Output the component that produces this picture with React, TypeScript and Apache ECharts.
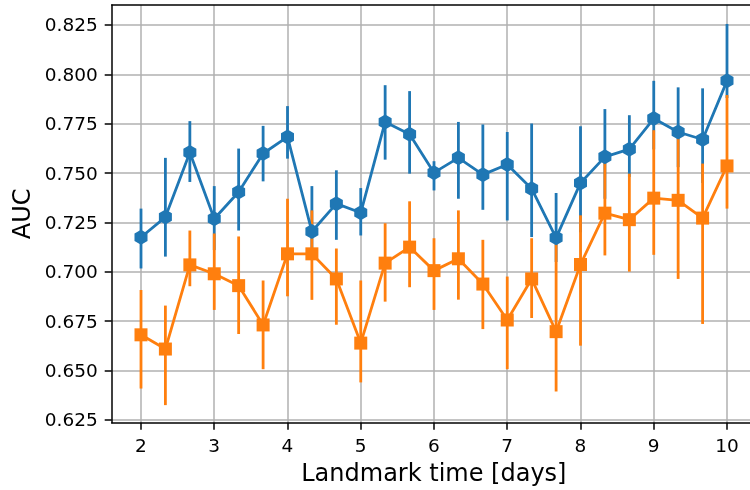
import React, { useEffect, useRef } from "react";
import * as echarts from "echarts";

const landmarkTimes = [2, 2.333, 2.667, 3, 3.333, 3.667, 4, 4.333, 4.667, 5, 5.333, 5.667, 6, 6.333, 6.667, 7, 7.333, 7.667, 8, 8.333, 8.667, 9, 9.333, 9.667, 10];

const blueMean = [0.7175, 0.7277, 0.7604, 0.7269, 0.7404, 0.7599, 0.7683, 0.7204, 0.7345, 0.7299, 0.7759, 0.7697, 0.7502, 0.7577, 0.7492, 0.7543, 0.7421, 0.7172, 0.745, 0.7582, 0.7621, 0.7776, 0.7708, 0.767, 0.7967];
const blueLow = [0.7017, 0.7077, 0.7455, 0.711, 0.7209, 0.7458, 0.7573, 0.707, 0.7162, 0.7184, 0.7568, 0.7497, 0.7412, 0.737, 0.7314, 0.726, 0.7176, 0.705, 0.72, 0.737, 0.748, 0.762, 0.753, 0.745, 0.788];
const blueHigh = [0.732, 0.7577, 0.7763, 0.7434, 0.7624, 0.7739, 0.7839, 0.7434, 0.7514, 0.7424, 0.7945, 0.7915, 0.756, 0.7759, 0.7746, 0.7708, 0.7751, 0.7399, 0.7737, 0.7824, 0.7793, 0.7967, 0.7934, 0.7929, 0.8255];

const orangeMean = [0.6681, 0.6609, 0.7035, 0.699, 0.693, 0.6731, 0.7091, 0.7091, 0.6964, 0.6639, 0.7044, 0.7125, 0.7006, 0.7066, 0.6938, 0.6756, 0.6964, 0.6697, 0.7037, 0.7297, 0.7264, 0.7373, 0.7362, 0.7272, 0.7536];
const orangeLow = [0.6409, 0.6325, 0.6927, 0.6807, 0.6685, 0.6507, 0.6876, 0.6858, 0.6732, 0.644, 0.6849, 0.6922, 0.6807, 0.6859, 0.671, 0.6507, 0.6766, 0.6394, 0.6626, 0.7083, 0.7001, 0.7086, 0.6964, 0.6736, 0.732];
const orangeHigh = [0.6908, 0.6829, 0.7209, 0.7194, 0.7179, 0.6956, 0.737, 0.7311, 0.7118, 0.6956, 0.7246, 0.7357, 0.717, 0.7311, 0.7162, 0.6976, 0.717, 0.716, 0.7286, 0.7556, 0.7497, 0.7717, 0.7683, 0.7548, 0.7895];

const xTicks = [2, 3, 4, 5, 6, 7, 8, 9, 10];
const yTicks = [0.625, 0.65, 0.675, 0.7, 0.725, 0.75, 0.775, 0.8, 0.825];

const BLUE = "#1f77b4";
const ORANGE = "#ff7f0e";
const FONT = "DejaVu Sans";
const HEX = "path://M0,-1L0.866,-0.5L0.866,0.5L0,1L-0.866,0.5L-0.866,-0.5Z";
const X_MIN = 1.6;
const X_MAX = 10.314;

export default function App() {
  const ref = useRef<HTMLDivElement>(null);
  useEffect(() => {
    const chart = echarts.init(ref.current!, null, { renderer: "svg" });
    const errData = (lo: number[], hi: number[]) => landmarkTimes.map((x, i) => [x, lo[i], hi[i]]);
    const renderErr = (color: string) => (_p: any, api: any) => {
      const x = api.value(0);
      const a = api.coord([x, api.value(1)]);
      const b = api.coord([x, api.value(2)]);
      return {
        type: "line",
        shape: { x1: a[0], y1: a[1], x2: b[0], y2: b[1] },
        style: { stroke: color, lineWidth: 2.8, lineCap: "butt" },
      };
    };
    chart.setOption({
      animation: false,
      grid: {
        left: 111.7,
        right: 0,
        top: 5,
        bottom: 67.3,
        show: false,
      },
      xAxis: [
        {
          type: "value",
          min: X_MIN,
          max: X_MAX,
          name: "Landmark time [days]",
          nameLocation: "middle",
          nameGap: 38,
          nameTextStyle: { fontFamily: FONT, fontSize: 24, color: "#000", padding: [0, 0, 0, 6] },
          axisLine: { show: true, lineStyle: { color: "#000", width: 1.5 } },
          axisTick: { show: true, length: 7, lineStyle: { color: "#000", width: 1.5 }, customValues: xTicks },
          axisLabel: {
            fontFamily: FONT,
            fontSize: 18.5,
            color: "#000",
            margin: 13,
            customValues: xTicks,
            formatter: (v: number) => String(v),
          },
          splitLine: { show: true, lineStyle: { color: "#b0b0b0", width: 1.5 } },
        },
        {
          type: "value",
          position: "top",
          min: X_MIN,
          max: X_MAX,
          axisLine: { show: true, onZero: false, lineStyle: { color: "#000", width: 1.5 } },
          axisTick: { show: false },
          axisLabel: { show: false },
          splitLine: { show: false },
        },
      ],
      yAxis: {
        type: "value",
        min: 0.6236,
        max: 0.8351,
        name: "AUC",
        nameLocation: "middle",
        nameGap: 75,
        nameTextStyle: { fontFamily: FONT, fontSize: 24, color: "#000" },
        axisLine: { show: true, lineStyle: { color: "#000", width: 1.5 } },
        axisTick: { show: true, length: 7, lineStyle: { color: "#000", width: 1.5 }, customValues: yTicks },
        axisLabel: {
          fontFamily: FONT,
          fontSize: 18.5,
          color: "#000",
          margin: 14,
          customValues: yTicks,
          formatter: (v: number) => v.toFixed(3),
        },
        splitLine: { show: true, lineStyle: { color: "#b0b0b0", width: 1.5 } },
      },
      series: [
        {
          type: "custom",
          z: 1,
          data: errData(blueLow, blueHigh),
          encode: { x: 0, y: [1, 2] },
          renderItem: renderErr(BLUE),
        },
        {
          type: "custom",
          z: 2,
          data: errData(orangeLow, orangeHigh),
          encode: { x: 0, y: [1, 2] },
          renderItem: renderErr(ORANGE),
        },
        {
          type: "line",
          z: 3,
          data: landmarkTimes.map((x, i) => [x, blueMean[i]]),
          symbol: HEX,
          symbolSize: [13, 15],
          showSymbol: true,
          itemStyle: { color: BLUE },
          lineStyle: { color: BLUE, width: 2.8 },
        },
        {
          type: "line",
          z: 4,
          data: landmarkTimes.map((x, i) => [x, orangeMean[i]]),
          symbol: "rect",
          symbolSize: 13,
          showSymbol: true,
          itemStyle: { color: ORANGE },
          lineStyle: { color: ORANGE, width: 2.8 },
        },
      ],
    });
    return () => chart.dispose();
  }, []);
  return <div ref={ref} style={{ position: "fixed", left: 0, top: 0, width: 750, height: 490 }} />;
}
